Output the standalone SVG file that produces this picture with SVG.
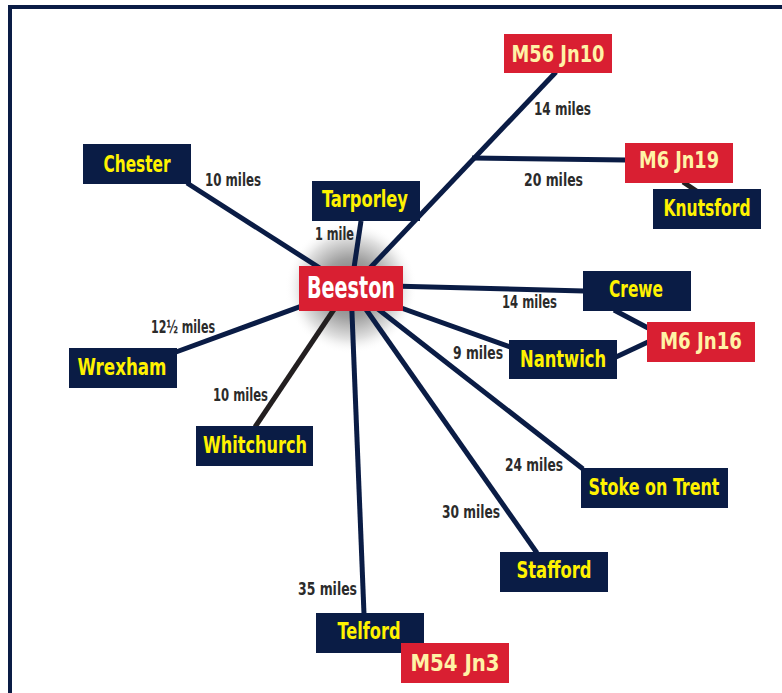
<svg xmlns="http://www.w3.org/2000/svg" width="782" height="693" viewBox="0 0 782 693">
<defs>
<radialGradient id="glow" cx="0.5" cy="0.5" r="0.5">
<stop offset="0" stop-color="#6a6a6a"/>
<stop offset="0.45" stop-color="#a0a0a0"/>
<stop offset="0.78" stop-color="#e2e2e2"/>
<stop offset="1" stop-color="#fff" stop-opacity="0"/>
</radialGradient>
<style>
.nb{fill:#0a1c45}
.rb{fill:#d91f32}
.nt{fill:#fff200;font-family:"DejaVu Sans Condensed","DejaVu Sans",sans-serif;font-weight:bold;font-size:23px;text-anchor:middle;font-stretch:condensed}
.rt{fill:#fff3a6;font-family:"DejaVu Sans Condensed","DejaVu Sans",sans-serif;font-weight:bold;font-size:23px;text-anchor:middle;font-stretch:condensed}
.dl{fill:#2b2b2b;font-family:"DejaVu Sans Condensed","DejaVu Sans",sans-serif;font-weight:bold;font-size:18px;font-stretch:condensed}
.ln{stroke:#0a1c45;stroke-width:5;fill:none}
.lk{stroke:#231f20;stroke-width:5;fill:none}
</style>
</defs>
<rect x="0" y="0" width="782" height="693" fill="#fff"/>
<rect x="10" y="7" width="820" height="740" fill="none" stroke="#0a1c45" stroke-width="4"/>
<circle cx="351" cy="288" r="66" fill="url(#glow)"/>
<g id="connectors">
<line class="ln" x1="351" y1="288" x2="187" y2="183"/>
<line class="ln" x1="351" y1="288" x2="361" y2="221"/>
<line class="ln" x1="351" y1="288" x2="556" y2="72"/>
<line class="ln" x1="472" y1="158" x2="626" y2="160"/>
<line class="lk" x1="683" y1="182" x2="698" y2="192"/>
<line class="ln" x1="351" y1="285" x2="584" y2="291"/>
<line class="ln" x1="351" y1="290" x2="510" y2="347"/>
<line class="ln" x1="614" y1="310" x2="648" y2="328"/>
<line class="ln" x1="616" y1="357" x2="648" y2="342"/>
<line class="ln" x1="351" y1="288" x2="176" y2="352"/>
<line class="lk" x1="347" y1="290" x2="255" y2="427"/>
<line class="ln" x1="351" y1="288" x2="364" y2="614"/>
<line class="ln" x1="351" y1="288" x2="537" y2="553"/>
<line class="ln" x1="351" y1="288" x2="583" y2="469"/>
</g>
<g id="labels">
<text class="dl" x="205" y="186" textLength="56" lengthAdjust="spacingAndGlyphs">10 miles</text>
<text class="dl" x="315" y="240" textLength="39" lengthAdjust="spacingAndGlyphs">1 mile</text>
<text class="dl" x="534" y="115" textLength="57" lengthAdjust="spacingAndGlyphs">14 miles</text>
<text class="dl" x="524" y="186" textLength="59" lengthAdjust="spacingAndGlyphs">20 miles</text>
<text class="dl" x="502" y="308" textLength="55" lengthAdjust="spacingAndGlyphs">14 miles</text>
<text class="dl" x="453" y="359" textLength="50" lengthAdjust="spacingAndGlyphs">9 miles</text>
<text class="dl" x="151" y="333" textLength="64" lengthAdjust="spacingAndGlyphs">12½ miles</text>
<text class="dl" x="213" y="401" textLength="55" lengthAdjust="spacingAndGlyphs">10 miles</text>
<text class="dl" x="298" y="595" textLength="59" lengthAdjust="spacingAndGlyphs">35 miles</text>
<text class="dl" x="505" y="471" textLength="58" lengthAdjust="spacingAndGlyphs">24 miles</text>
<text class="dl" x="442" y="518" textLength="58" lengthAdjust="spacingAndGlyphs">30 miles</text>
</g>
<g id="chester"><rect class="nb" x="83" y="144" width="108" height="40"/><text class="nt" x="137" y="172" textLength="67" lengthAdjust="spacingAndGlyphs">Chester</text></g>
<g id="tarporley"><rect class="nb" x="312" y="181" width="108" height="40"/><text class="nt" x="365" y="207" textLength="86" lengthAdjust="spacingAndGlyphs">Tarporley</text></g>
<g id="beeston"><rect class="rb" x="299" y="266" width="104" height="45"/><text x="351" y="298" fill="#fff" font-family="'DejaVu Sans Condensed','DejaVu Sans',sans-serif" font-weight="bold" font-size="31" text-anchor="middle" textLength="88" lengthAdjust="spacingAndGlyphs">Beeston</text></g>
<g id="m56jn10"><rect class="rb" x="504" y="34" width="108" height="39"/><text class="rt" x="558" y="62" textLength="93" lengthAdjust="spacingAndGlyphs">M56 Jn10</text></g>
<g id="m6jn19"><rect class="rb" x="625" y="143" width="108" height="40"/><text class="rt" x="679" y="168" textLength="80" lengthAdjust="spacingAndGlyphs">M6 Jn19</text></g>
<g id="knutsford"><rect class="nb" x="653" y="189" width="108" height="40"/><text class="nt" x="707" y="216" textLength="87" lengthAdjust="spacingAndGlyphs">Knutsford</text></g>
<g id="crewe"><rect class="nb" x="583" y="271" width="108" height="40"/><text class="nt" x="636" y="297" textLength="54" lengthAdjust="spacingAndGlyphs">Crewe</text></g>
<g id="m6jn16"><rect class="rb" x="647" y="322" width="108" height="40"/><text class="rt" x="701" y="349" textLength="82" lengthAdjust="spacingAndGlyphs">M6 Jn16</text></g>
<g id="nantwich"><rect class="nb" x="509" y="340" width="108" height="39"/><text class="nt" x="563" y="367" textLength="86" lengthAdjust="spacingAndGlyphs">Nantwich</text></g>
<g id="wrexham"><rect class="nb" x="69" y="348" width="108" height="40"/><text class="nt" x="122" y="375" textLength="89" lengthAdjust="spacingAndGlyphs">Wrexham</text></g>
<g id="whitchurch"><rect class="nb" x="196" y="426" width="117" height="40"/><text class="nt" x="255" y="453" textLength="104" lengthAdjust="spacingAndGlyphs">Whitchurch</text></g>
<g id="telford"><rect class="nb" x="316" y="613" width="108" height="40"/><text class="nt" x="369" y="639" textLength="63" lengthAdjust="spacingAndGlyphs">Telford</text></g>
<g id="m54jn3"><rect class="rb" x="401" y="643" width="108" height="40"/><text class="rt" x="455" y="671" textLength="89" lengthAdjust="spacingAndGlyphs">M54 Jn3</text></g>
<g id="stoke"><rect class="nb" x="581" y="468" width="147" height="40"/><text class="nt" x="654" y="495" textLength="131" lengthAdjust="spacingAndGlyphs">Stoke on Trent</text></g>
<g id="stafford"><rect class="nb" x="500" y="552" width="108" height="40"/><text class="nt" x="554" y="578" textLength="75" lengthAdjust="spacingAndGlyphs">Stafford</text></g>
</svg>
